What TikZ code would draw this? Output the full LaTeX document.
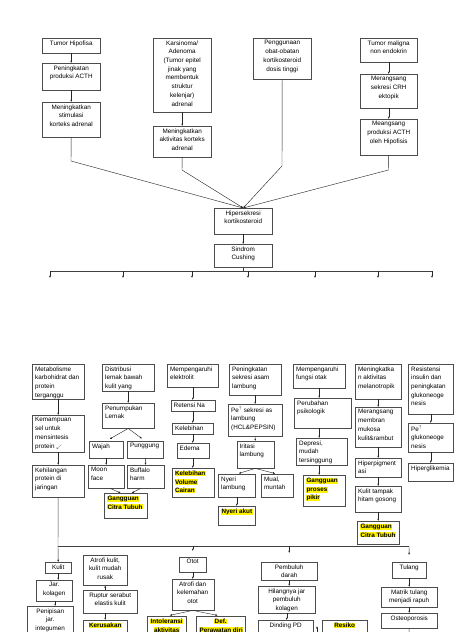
\documentclass[tikz,border=0pt]{standalone}
\usepackage{fontspec}
\setmainfont{Liberation Sans}
\usetikzlibrary{arrows.meta}
\newlength\px
\setlength\px{0.5mm}
\definecolor{boxc}{gray}{0.3}
\newcommand{\hl}[1]{{\setlength{\fboxsep}{0.5pt}\colorbox{yellow}{\bfseries #1}}}
\tikzset{
  every box/.style={draw=boxc, line width=0.6pt, anchor=north west, inner xsep=3\px, inner ysep=0pt,
    font=\fontsize{9}{12.4}\selectfont},
  cbox/.style 2 args={every box,
    execute at begin node={\begin{minipage}[c][#2\px][t]{\dimexpr#1\px-6\px\relax}\centering\hyphenpenalty=10000\vspace*{2.3\px}},
    execute at end node={\end{minipage}}},
  lbox/.style 2 args={every box,
    execute at begin node={\begin{minipage}[c][#2\px][t]{\dimexpr#1\px-6\px\relax}\raggedright\hyphenpenalty=10000\vspace*{2.3\px}},
    execute at end node={\end{minipage}}},
  arr/.style={line width=0.6pt, draw=black!85, -{Latex[length=3.2pt,width=2.8pt]}},
  ln/.style={line width=0.6pt, draw=black!75},
}
\begin{document}
\begin{tikzpicture}[x=\px, y=-\px]
\path[use as bounding box, fill=white] (0,0) rectangle (474,632);

\node[cbox={58}{15}] (tumorhipo) at (42,38) {Tumor Hipofisa};
\node[cbox={58}{27}] (acth) at (42,63) {Peningkatan\\produksi ACTH};
\node[cbox={58}{35}] (stimulasi) at (42,102) {Meningkatkan\\stimulasi\\korteks adrenal};
\node[cbox={58}{74}] (karsinoma) at (153,38) {Karsinoma/\\Adenoma\\(Tumor epitel\\jinak yang\\membentuk\\struktur\\kelenjar)\\adrenal};
\node[cbox={58}{31}] (aktivitas) at (153,126) {Meningkatkan\\aktivitas korteks\\adrenal};
\node[cbox={58}{41}] (obat) at (253,38) {Penggunaan\\obat-obatan\\kortikosteroid\\dosis tinggi};
\node[cbox={57}{24}] (maligna) at (360,38) {Tumor maligna\\non endokrin};
\node[cbox={57}{34}] (crh) at (360,74) {Merangsang\\sekresi CRH\\ektopik};
\node[cbox={57}{36}] (acthhipo) at (360,119) {Meangsang\\produksi ACTH\\oleh Hipofisis};
\node[cbox={58}{26}] (hiper) at (214,208) {Hipersekresi\\kortikosteroid};
\node[cbox={58}{23}] (cushing) at (214,244) {Sindrom\\Cushing};

\coordinate (b1) at (71,161);
\coordinate (b2) at (182,170);
\coordinate (b3) at (282,166);
\coordinate (b4) at (388.5,170);
\draw[arr] (tumorhipo) -- (acth);
\draw[arr] (acth) -- (stimulasi);
\draw[arr] (karsinoma) -- (aktivitas);
\draw[arr] (maligna) -- (crh);
\draw[arr] (crh) -- (acthhipo);
\draw[arr] (stimulasi.south) -- (b1) -- (hiper.north);
\draw[arr] (aktivitas.south) -- (b2) -- (hiper.north);
\draw[arr] (obat.south) -- (b3) -- (hiper.north);
\draw[arr] (acthhipo.south) -- (b4) -- (hiper.north);
\draw[arr] (hiper) -- (cushing);

\coordinate (busl) at (50,271);
\coordinate (busr) at (432,271);
\draw[ln] (cushing.south) -- (cushing.south |- busl);
\draw[ln] (busl) -- (busr);
\foreach \x [count=\i] in {50,123,192,248,315,378,432} {
  \coordinate (bt\i) at (\x,271);
  \coordinate (bb\i) at (\x,278);
  \draw[arr] (bt\i) -- (bb\i);
}

\node[lbox={52}{35}] (metab) at (32,364) {Metabolisme\\karbohidrat dan\\protein\\terganggu};
\node[lbox={52}{37}] (kemampuan) at (32,415) {Kemampuan\\sel untuk\\mensintesis\\protein {\scriptsize$\swarrow$}};
\node[lbox={52}{32}] (kehilangan) at (32,465) {Kehilangan\\protein di\\jaringan};
\node[lbox={52}{27}] (distribusi) at (102,364) {Distribusi\\lemak bawah\\kulit yang};
\node[lbox={52}{25}] (penumpukan) at (102,403) {Penumpukan\\Lemak};
\node[lbox={34}{17}] (wajah) at (89,441) {Wajah};
\node[lbox={36}{17}] (punggung) at (127,441) {Punggung};
\node[lbox={36}{23}] (moon) at (88,465) {Moon\\face};
\node[lbox={37}{23}] (buffalo) at (127,465) {Buffalo\\harm};
\node[lbox={43}{25}] (citra1) at (104,493) {\hl{Gangguan}\\\hl{Citra Tubuh}};
\node[lbox={51}{23}] (elektrolit) at (167,364) {Mempengaruhi\\elektrolit};
\node[lbox={44}{11}] (retensi) at (170.5,400) {Retensi Na};
\node[lbox={41}{11}] (kelebihan) at (172,423) {Kelebihan};
\node[lbox={32}{15}] (edema) at (176.5,443) {Edema};
\node[lbox={42}{29}] (volume) at (171.5,468) {\hl{Kelebihan}\\\hl{Volume}\\\hl{Cairan}};
\node[lbox={52}{31}] (asam) at (229,364) {Peningkatan\\sekresi asam\\lambung};
\node[lbox={54}{32}] (hcl) at (228,404) {Pe$^{\uparrow}$ sekresi as\\lambung\\(HCL\&PEPSIN)};
\node[lbox={37}{27}] (iritasi) at (236.5,441) {Iritasi\\lambung};
\node[lbox={37}{23}] (nyerilambung) at (218,474) {Nyeri\\lambung};
\node[lbox={32}{23}] (mual) at (261,474) {Mual,\\muntah};
\node[lbox={37}{19}] (nyeriakut) at (218,506) {\hl{Nyeri akut}};
\node[lbox={52}{24}] (otak) at (293,364) {Mempengaruhi\\fungsi otak};
\node[lbox={57}{30}] (psikologik) at (294,398) {Perubahan\\psikologik};
\node[lbox={51}{27}] (depresi) at (296,438) {Depresi,\\mudah\\tersinggung};
\node[lbox={42}{31}] (pikir) at (303,475) {\hl{Gangguan}\\\hl{proses}\\\hl{pikir}};
\node[lbox={46}{35}] (melano) at (355,364) {Meningkatka\\n aktivitas\\melanotropik};
\node[lbox={46}{40}] (mukosa) at (355,407) {Merangsang\\membran\\mukosa\\kulit\&rambut};
\node[lbox={46}{19}] (pigmen) at (355,458) {Hiperpigment\\asi};
\node[lbox={46}{26}] (gosong) at (355,486) {Kulit tampak\\hitam gosong};
\node[lbox={42}{23}] (citra2) at (357,521) {\hl{Gangguan}\\\hl{Citra Tubuh}};
\node[lbox={45}{50}] (insulin) at (408,364) {Resistensi\\insulin dan\\peningkatan\\glukoneoge\\nesis};
\node[lbox={45}{29}] (gluko) at (408,423) {Pe$^{\uparrow}$\\glukoneoge\\nesis};
\node[lbox={45}{18}] (glikemia) at (408,463) {Hiperglikemia};

\draw[arr] (metab) -- (kemampuan);
\draw[arr] (kemampuan) -- (kehilangan);
\draw[arr] (distribusi) -- (penumpukan);
\draw[arr, shorten >=4\px] (penumpukan.south) -- (wajah.north);
\draw[arr, shorten >=4\px] (penumpukan.south) -- (punggung.north);
\draw[arr] (wajah) -- (moon);
\draw[arr] (punggung) -- (buffalo);
\draw[arr] ([xshift=4\px]moon.south) -- ([xshift=-5\px]citra1.north);
\draw[arr] ([xshift=-5\px]buffalo.south) -- ([xshift=6\px]citra1.north);
\draw[arr] (elektrolit) -- (retensi);
\draw[arr] (retensi) -- (kelebihan);
\draw[arr] (kelebihan) -- (edema);
\draw[arr] (edema) -- (volume);
\draw[arr] (asam) -- (hcl);
\draw[arr] (hcl) -- (iritasi);
\draw[arr, shorten >=2\px] (iritasi.south) -- (nyerilambung.north);
\draw[arr, shorten >=2\px] (iritasi.south) -- (mual.north);
\draw[arr] (nyerilambung) -- (nyeriakut);
\draw[arr] (otak.south) -- (otak.south |- psikologik.north);
\draw[arr] (otak.south |- psikologik.south) -- (otak.south |- depresi.north);
\draw[arr] (otak.south |- depresi.south) -- (otak.south |- pikir.north);
\draw[arr] (melano) -- (mukosa);
\draw[arr] (mukosa) -- (pigmen);
\draw[arr] (pigmen) -- (gosong);
\draw[arr] (gosong) -- (citra2);
\draw[arr] (insulin) -- (gluko);
\draw[arr] (gluko) -- (glikemia);

\node[cbox={26}{11}] (kulit) at (45,562) {Kulit};
\node[cbox={36}{21}] (kolagen) at (36,580) {Jar.\\kolagen};
\node[cbox={46}{40}] (penipisan) at (27,606) {Penipisan\\jar.\\integumen};
\node[cbox={44}{30}] (atrofikulit) at (83,555) {Atrofi kulit,\\kulit mudah\\rusak};
\node[cbox={54}{23}] (ruptur) at (83,590) {Ruptur serabut\\elastis kulit};
\node[cbox={44}{30}] (kerusakan) at (83,620) {\hl{Kerusakan}};
\node[cbox={39}{30}] (intoleransi) at (147,616) {\hl{Intoleransi}\\\hl{aktivitas}};
\node[cbox={49}{30}] (perawatan) at (196,616) {\hl{Def.}\\\hl{Perawatan diri}};
\node[cbox={27}{15}] (otot) at (179,557) {Otot};
\node[cbox={42}{31}] (atrofiotot) at (171.5,579) {Atrofi dan\\kelemahan\\otot};
\node[cbox={56}{18}] (pembuluh) at (261,562) {Pembuluh\\darah};
\node[cbox={57}{27}] (hilangnya) at (258,586) {Hilangnya jar\\pembuluh\\kolagen};
\node[cbox={55}{30}] (dinding) at (258,620) {Dinding PD};
\node[cbox={45}{30}] (resiko) at (322,620) {\hl{Resiko}};
\node[cbox={34}{16}] (tulang) at (392,562) {Tulang};
\node[cbox={56}{20}] (matrik) at (381,587) {Matrik tulang\\menjadi rapuh};
\node[cbox={56}{15}] (osteo) at (381,613) {Osteoporosis};

\coordinate (busa) at (58,546);
\coordinate (busb) at (409,546);
\coordinate (osteoend) at (409,645);
\coordinate (pdlow) at (317,645);
\coordinate (pdhigh) at (317,626);
\draw[ln] (kehilangan.south) -- (busa);
\draw[ln] (busa) -- (busb);
\draw[arr] (busa) -- (kulit.north);
\draw[arr, shorten >=6\px] (busa -| otot.north) -- (otot.north);
\draw[arr, shorten >=9\px] (busa -| pembuluh.north) -- (pembuluh.north);
\draw[arr, shorten >=7\px] (busb) -- (tulang.north);
\draw[arr] (kulit.south) -- (kulit.south |- kolagen.north);
\draw[arr] ([xshift=1\px]kolagen.south) -- ([xshift=1\px]kolagen.south |- penipisan.north);
\draw[arr] (ruptur.north -| atrofikulit.south) -- (atrofikulit.south);
\draw[arr] (atrofikulit.south |- ruptur.south) -- (atrofikulit.south |- kerusakan.north);
\draw[arr] (otot) -- (atrofiotot);
\draw[arr, shorten >=3\px] (atrofiotot.south) -- (intoleransi.north);
\draw[arr, shorten >=3\px] (atrofiotot.south) -- (perawatan.north);
\draw[arr] (pembuluh.south) -- (pembuluh.south |- hilangnya.north);
\draw[arr] (hilangnya.south) -- (hilangnya.south |- dinding.north);
\draw[arr] (tulang) -- (matrik);
\draw[arr] (matrik) -- (osteo);
\draw[ln] (osteo.south) -- (osteoend);
\draw[arr] (pdlow) -- (pdhigh);
\end{tikzpicture}
\end{document}
